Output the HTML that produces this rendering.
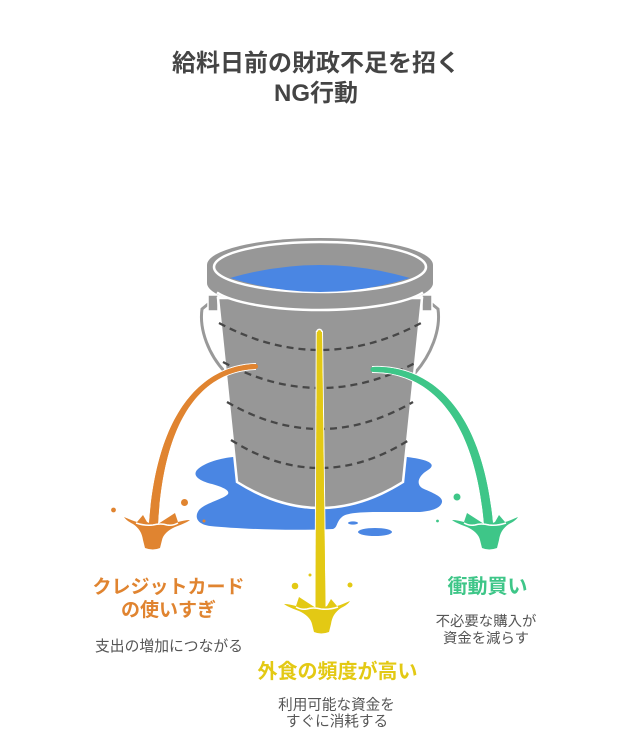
<!DOCTYPE html>
<html>
<head>
<meta charset="utf-8">
<style>
html,body{margin:0;padding:0;background:#fff;}
svg{display:block;}
text{font-family:"Liberation Sans","Noto Sans CJK JP",sans-serif;}
</style>
</head>
<body>
<svg width="632" height="746" viewBox="0 0 632 746" xmlns="http://www.w3.org/2000/svg">
  <rect width="632" height="746" fill="#fff"/>

  <!-- Title -->
  <text x="316" y="71" text-anchor="middle" font-size="24" font-weight="bold" fill="#444">給料日前の財政不足を招く</text>
  <text x="316" y="101" text-anchor="middle" font-size="24" font-weight="bold" fill="#444">NG行動</text>

  <!-- Puddle -->
  <path d="M233,457 C222,458 205,462 197,470 C192,476 200,481 212,484 C222,487 230,490 228,494 C224,499 205,503 199,510 C194,517 197,524 210,526 C240,529 290,531 333,529 C338,527 336,522 342,517 C346,513 360,512 380,512 L420,512 C432,511 441,508 442,502 C443,496 430,492 422,488 C416,484 418,476 428,470 C436,465 432,460 407,457 Z" fill="#4a86e3"/>
  <ellipse cx="353" cy="523" rx="5" ry="1.6" fill="#4a86e3"/>
  <ellipse cx="375" cy="532" rx="17" ry="4" fill="#4a86e3"/>

  <!-- Handles -->
  <path d="M213,300 L202,309 C199,330 209,355 225,372" fill="none" stroke="#fff" stroke-width="6" stroke-linecap="round"/>
  <path d="M213,300 L202,309 C199,330 209,355 225,372" fill="none" stroke="#999" stroke-width="3" stroke-linecap="round"/>
  <path d="M427,300 L438,309 C441,330 431,355 415,373" fill="none" stroke="#fff" stroke-width="6" stroke-linecap="round"/>
  <path d="M427,300 L438,309 C441,330 431,355 415,373" fill="none" stroke="#999" stroke-width="3" stroke-linecap="round"/>
  <rect x="208" y="295" width="10" height="16" fill="#979797" stroke="#fff" stroke-width="1.5"/>
  <rect x="422" y="295" width="10" height="16" fill="#979797" stroke="#fff" stroke-width="1.5"/>

  <!-- Bucket body -->
  <path d="M218,298 L237,482 Q320,534 403,482 L422,298 Z" fill="#979797" stroke="#fff" stroke-width="2.5"/>

  <!-- Dashed bands -->
  <g fill="none" stroke="#474747" stroke-width="2.3" stroke-dasharray="7,5">
    <path d="M219,323 Q320,377 421,323"/>
    <path d="M223,362 Q320,414 417,362"/>
    <path d="M227,402 Q320,456 413,402"/>
    <path d="M231,440 Q320,496 409,440"/>
  </g>

  <!-- Rim -->
  <path d="M207,265 A113,27 0 0 1 433,265 L433,283 A113,27 0 0 1 207,283 Z" fill="#979797"/>
  <path d="M217,292.5 A110,27 0 0 0 423,292.5" fill="none" stroke="#fff" stroke-width="2.5"/>
  <ellipse cx="320" cy="267" rx="106" ry="25" fill="#979797" stroke="#fff" stroke-width="2.5"/>
  <path d="M230,278 Q320,252 410,278 Q320,306 230,278 Z" fill="#4a86e3"/>

  <!-- Orange stream -->
  <g>
    <path d="M255,364 C204,366 157,409 149,524 L158,524 C164,412 206,371 255,369 Z" fill="#e08430" stroke="#fff" stroke-width="2" paint-order="stroke"/>
    <circle cx="255.5" cy="366.5" r="2.5" fill="#e08430"/>
    <path d="M255,364 C204,366 157,409 149,524 L158,524 C164,412 206,371 255,369 Z" fill="#e08430"/>
  </g>
  <!-- Green stream -->
  <g>
    <path d="M373,367 C427,365 482,404 493,524 L484,524 C474,409 424,372 373,372 Z" fill="#3ec688" stroke="#fff" stroke-width="2" paint-order="stroke"/>
    <circle cx="373" cy="369.5" r="2.5" fill="#3ec688"/>
    <path d="M373,367 C427,365 482,404 493,524 L484,524 C474,409 424,372 373,372 Z" fill="#3ec688"/>
  </g>
  <!-- Yellow stream -->
  <g>
    <path d="M316.8,332 L315.5,609 L325.5,609 L322,332 Z" fill="#e3c914" stroke="#fff" stroke-width="2" paint-order="stroke"/>
    <circle cx="319.4" cy="332" r="2.6" fill="#e3c914" stroke="#fff" stroke-width="1.5"/>
    <path d="M316.8,332 L315.5,609 L325.5,609 L322,332 Z" fill="#e3c914"/>
  </g>

  <!-- Splashes -->
  <defs>
    <g id="splash">
      <path d="M-29,-6 C-24,-4 -20,-2 -16,-1 L-10,-8 L-6,-1 Q0,2 5,1 L22,-10 L25,-1 C29,-2 33,-3 37,-3 C33,0 27,2 22,4 C15,7 10,12 9,17 L7,25 Q0,28 -8,25 L-10,17 C-11,10 -14,5 -20,1 C-24,-1 -27,-3 -29,-6 Z"/>
    </g>
  </defs>
  <g transform="translate(153,523)" fill="#e08430">
    <use href="#splash"/>
    <path d="M-17,0 Q-8,3 0,2 Q8,0 14,2 Q20,3 25,0" fill="none" stroke="#fff" stroke-width="1.5"/>
  </g>
  <g transform="translate(321,607) scale(-1,1)" fill="#e3c914">
    <use href="#splash"/>
    <path d="M-17,0 Q-8,3 0,2 Q8,0 14,2 Q20,3 25,0" fill="none" stroke="#fff" stroke-width="1.5"/>
  </g>
  <g transform="translate(489,523) scale(-1,1)" fill="#3ec688">
    <use href="#splash"/>
    <path d="M-17,0 Q-8,3 0,2 Q8,0 14,2 Q20,3 25,0" fill="none" stroke="#fff" stroke-width="1.5"/>
  </g>

  <!-- Droplets -->
  <circle cx="113.5" cy="510" r="2.4" fill="#e08430"/>
  <circle cx="184.5" cy="502.5" r="3.5" fill="#e08430"/>
  <circle cx="204" cy="521" r="1.5" fill="#e08430"/>
  <circle cx="295" cy="586" r="3.3" fill="#e3c914"/>
  <circle cx="310" cy="575" r="1.5" fill="#e3c914"/>
  <circle cx="350" cy="585" r="2.5" fill="#e3c914"/>
  <circle cx="457" cy="497" r="3.5" fill="#3ec688"/>
  <circle cx="437.5" cy="521" r="1.4" fill="#3ec688"/>

  <!-- Labels -->
  <text x="168.5" y="593" text-anchor="middle" font-size="19" font-weight="bold" fill="#e08430">クレジットカード</text>
  <text x="168.5" y="616" text-anchor="middle" font-size="19" font-weight="bold" fill="#e08430">の使いすぎ</text>
  <text x="169" y="651" text-anchor="middle" font-size="14.8" fill="#555">支出の増加につながる</text>

  <text x="337.5" y="678" text-anchor="middle" font-size="20" font-weight="bold" fill="#e3c914">外食の頻度が高い</text>
  <text x="336.5" y="709.5" text-anchor="middle" font-size="14.6" fill="#555">利用可能な資金を</text>
  <text x="337" y="726" text-anchor="middle" font-size="14.6" fill="#555">すぐに消耗する</text>

  <text x="487.5" y="593" text-anchor="middle" font-size="20" font-weight="bold" fill="#3ec688">衝動買い</text>
  <text x="486" y="626" text-anchor="middle" font-size="14.4" fill="#555">不必要な購入が</text>
  <text x="486" y="643" text-anchor="middle" font-size="14.4" fill="#555">資金を減らす</text>
</svg>
</body>
</html>
